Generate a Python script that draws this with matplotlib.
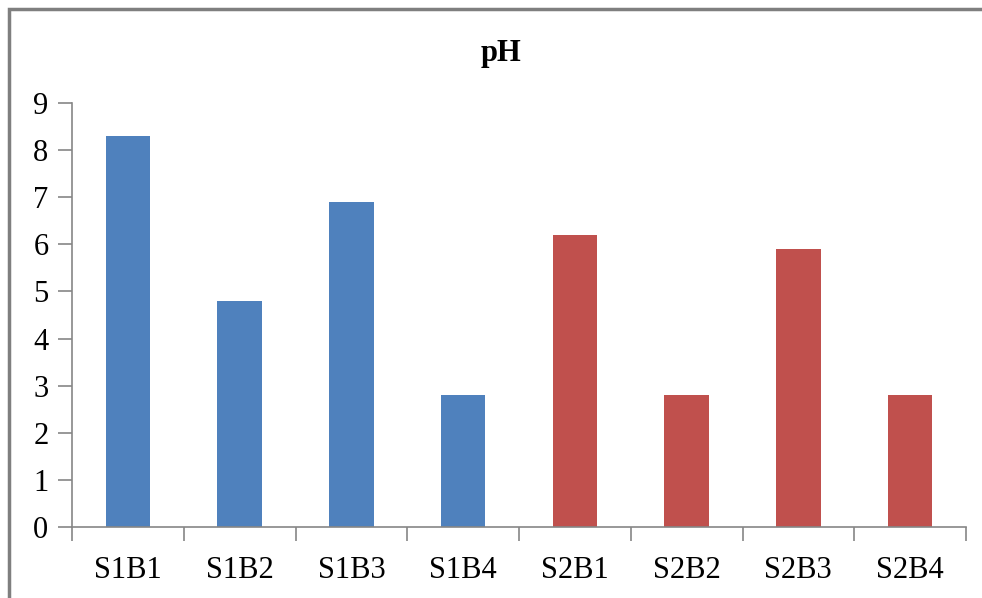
import matplotlib
matplotlib.use("Agg")
import matplotlib.pyplot as plt
from matplotlib.patches import Rectangle
import numpy as np

# dati
categories = ["S1B1", "S1B2", "S1B3", "S1B4", "S2B1", "S2B2", "S2B3", "S2B4"]
values = [8.3, 4.8, 6.9, 2.8, 6.2, 2.8, 5.9, 2.8]
groups = ["S1", "S1", "S1", "S1", "S2", "S2", "S2", "S2"]
yticks = list(range(0, 10))

colors = {"S1": "#4F81BD", "S2": "#C0504D"}
axis_col = "#868686"

plt.rcParams["font.family"] = ["Liberation Serif", "DejaVu Serif"]

fig = plt.figure(figsize=(9.82, 5.98), dpi=100)
ax = fig.add_axes([72 / 982, 71 / 598, 894 / 982, 424 / 598])

x = np.arange(len(categories))
ax.bar(x, values, width=0.4, color=[colors[g] for g in groups], zorder=2)

ax.set_xlim(-0.5, len(categories) - 0.5)
ax.set_ylim(0, 9)
ax.set_yticks(yticks)
ax.set_yticklabels([str(t) for t in yticks], fontsize=22)

# etichette al centro, tacche sui bordi delle categorie
ax.set_xticks(x)
ax.set_xticklabels(categories, fontsize=22)
ax.tick_params(axis="x", length=0, pad=21)
ax.set_xticks(np.arange(-0.5, len(categories)), minor=True)
ax.tick_params(axis="x", which="minor", length=10, width=1.2, color=axis_col)
ax.tick_params(axis="y", length=10, width=1.2, color=axis_col, pad=7)

for s in ["top", "right"]:
    ax.spines[s].set_visible(False)
for s in ["left", "bottom"]:
    ax.spines[s].set_color(axis_col)
    ax.spines[s].set_linewidth(1.2)

fig.text(501 / 982, 1 - 61 / 598, "pH", fontsize=22, fontweight="bold",
         ha="center", va="baseline")

# cornice del grafico
fig.patches.append(Rectangle((9 / 982, -0.1), 1.2, (598 - 9) / 598 + 0.1,
                             transform=fig.transFigure, fill=False,
                             edgecolor="#7F7F7F", linewidth=2.5))

fig.savefig("out.png", dpi=100)
